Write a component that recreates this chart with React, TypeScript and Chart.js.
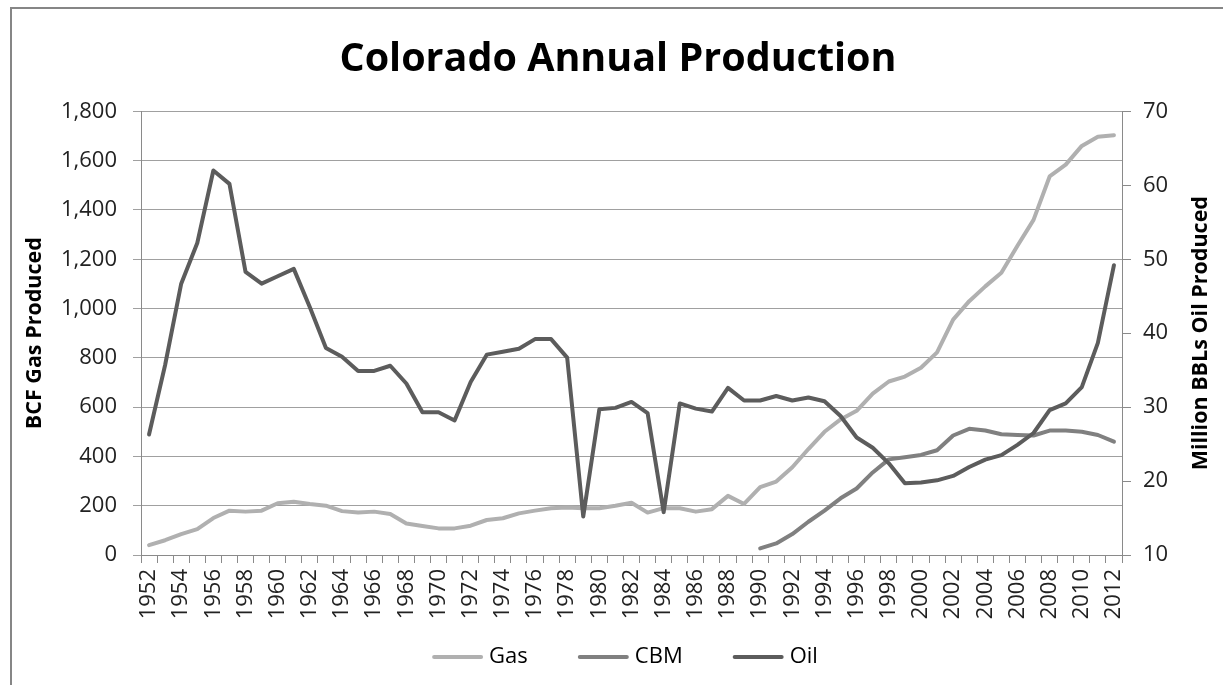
import React, { useEffect, useRef } from "react";
import { Chart, registerables } from "chart.js";

Chart.register(...registerables);

const FONT = "'Open Sans', 'Liberation Sans', sans-serif";

const chartTitle = "Colorado Annual Production";
const leftAxisTitle = "BCF Gas Produced";
const rightAxisTitle = "Million BBLs Oil Produced";

const years = [
  "1952", "1953", "1954", "1955", "1956", "1957", "1958", "1959", "1960", "1961",
  "1962", "1963", "1964", "1965", "1966", "1967", "1968", "1969", "1970", "1971",
  "1972", "1973", "1974", "1975", "1976", "1977", "1978", "1979", "1980", "1981",
  "1982", "1983", "1984", "1985", "1986", "1987", "1988", "1989", "1990", "1991",
  "1992", "1993", "1994", "1995", "1996", "1997", "1998", "1999", "2000", "2001",
  "2002", "2003", "2004", "2005", "2006", "2007", "2008", "2009", "2010", "2011",
  "2012",
];

// BCF (left axis)
const gas = [
  40, 60, 85, 105, 150, 180, 176, 180, 210, 216,
  207, 200, 178, 172, 176, 166, 128, 118, 108, 108,
  119, 142, 149, 169, 180, 190, 193, 190, 190, 200,
  212, 172, 190, 190, 176, 186, 240, 207, 275, 298,
  356, 430, 500, 550, 585, 655, 704, 724, 760, 822,
  955, 1030, 1090, 1145, 1255, 1360, 1536, 1584, 1660, 1697,
  1703,
];

// BCF (left axis)
const cbm = [
  null, null, null, null, null, null, null, null, null, null,
  null, null, null, null, null, null, null, null, null, null,
  null, null, null, null, null, null, null, null, null, null,
  null, null, null, null, null, null, null, null, 27, 47,
  85, 135, 180, 230, 270, 335, 388, 397, 406, 425,
  485, 512, 505, 490, 487, 485, 505, 505, 500, 487,
  460,
];

// Million BBLs (right axis)
const oil = [
  26.3, 35.7, 46.7, 52.2, 62.0, 60.2, 48.3, 46.7, 47.7, 48.7,
  43.5, 38.0, 36.8, 34.9, 34.9, 35.6, 33.2, 29.3, 29.3, 28.2,
  33.4, 37.1, 37.5, 37.9, 39.2, 39.2, 36.7, 15.2, 29.7, 29.9,
  30.7, 29.2, 15.8, 30.5, 29.8, 29.4, 32.6, 30.9, 30.9, 31.5,
  30.9, 31.3, 30.8, 28.8, 25.9, 24.5, 22.4, 19.7, 19.8, 20.1,
  20.7, 21.9, 22.9, 23.5, 24.9, 26.5, 29.6, 30.5, 32.7, 38.7,
  49.2,
];

const leftMin = 0;
const leftMax = 1800;
const leftStep = 200;
const rightMin = 10;
const rightMax = 70;
const rightStep = 10;

const seriesNames = ["Gas", "CBM", "Oil"];
const seriesColors = ["#b0b0b0", "#808080", "#5c5c5c"];

const axisTitlesPlugin = {
  id: "axisTitlesPlugin",
  afterDraw(chart: any) {
    const { ctx, chartArea } = chart;
    const midY = (chartArea.top + chartArea.bottom) / 2;
    ctx.save();
    ctx.fillStyle = "#000";
    ctx.font = `bold 21.5px ${FONT}`;
    ctx.textAlign = "center";
    ctx.textBaseline = "middle";
    ctx.save();
    ctx.translate(chartArea.left - 106, midY);
    ctx.rotate(-Math.PI / 2);
    ctx.fillText(leftAxisTitle, 0, 0);
    ctx.restore();
    ctx.save();
    ctx.translate(chartArea.right + 79, midY);
    ctx.rotate(-Math.PI / 2);
    ctx.fillText(rightAxisTitle, 0, 0);
    ctx.restore();
    ctx.restore();
  },
};

// Legend drawn under the x axis, line samples like the source chart
const lineLegendPlugin = {
  id: "lineLegendPlugin",
  afterDraw(chart: any) {
    const { ctx } = chart;
    const sampleLen = 51;
    const textGap = 6;
    const itemGap = 50;
    const centerX = 625;
    const y = 657;
    ctx.save();
    ctx.font = `22px ${FONT}`;
    const widths = seriesNames.map((n) => sampleLen + textGap + ctx.measureText(n).width);
    const total = widths.reduce((a, b) => a + b, 0) + itemGap * (widths.length - 1);
    let x = centerX - total / 2;
    chart.data.datasets.forEach((ds: any, i: number) => {
      ctx.strokeStyle = ds.borderColor;
      ctx.lineWidth = 4;
      ctx.lineCap = "round";
      ctx.beginPath();
      ctx.moveTo(x + 2, y);
      ctx.lineTo(x + sampleLen - 2, y);
      ctx.stroke();
      ctx.fillStyle = "#000";
      ctx.textAlign = "left";
      ctx.textBaseline = "middle";
      ctx.fillText(ds.label, x + sampleLen + textGap, y);
      x += widths[i] + itemGap;
    });
    ctx.restore();
  },
};

export default function App() {
  const canvasRef = useRef<HTMLCanvasElement | null>(null);

  useEffect(() => {
    if (!canvasRef.current) return;
    const lineBase = {
      pointRadius: 0,
      pointHoverRadius: 0,
      borderWidth: 4,
      tension: 0,
      borderJoinStyle: "round" as const,
      borderCapStyle: "round" as const,
      spanGaps: false,
      fill: false,
    };
    const chart = new Chart(canvasRef.current, {
      type: "line",
      data: {
        labels: years,
        datasets: [
          { ...lineBase, label: seriesNames[0], data: gas, borderColor: seriesColors[0], backgroundColor: seriesColors[0], yAxisID: "y", order: 3 },
          { ...lineBase, label: seriesNames[1], data: cbm, borderColor: seriesColors[1], backgroundColor: seriesColors[1], yAxisID: "y", order: 2 },
          { ...lineBase, label: seriesNames[2], data: oil, borderColor: seriesColors[2], backgroundColor: seriesColors[2], yAxisID: "y1", order: 1 },
        ],
      },
      options: {
        animation: false,
        responsive: false,
        devicePixelRatio: 1,
        layout: { padding: { left: 13, right: 0, top: 0, bottom: 55 } },
        plugins: {
          tooltip: { enabled: false },
          legend: { display: false },
          title: {
            display: true,
            text: chartTitle,
            color: "#000",
            font: { family: FONT, size: 39.5, weight: "bold", lineHeight: 1.2 },
            padding: { top: 36, bottom: 28 },
          },
        },
        scales: {
          x: {
            type: "category",
            offset: true,
            afterFit: (s: any) => { s.height = 75; },
            grid: { display: true, drawOnChartArea: false, drawTicks: true, tickLength: 8, color: "#8a8a8a", offset: true },
            border: { display: true, color: "#8a8a8a", width: 1 },
            ticks: {
              autoSkip: false,
              maxRotation: 90,
              minRotation: 90,
              padding: 6,
              color: "#222",
              font: { family: FONT, size: 22 },
              callback: function (this: any, _v: any, i: number) {
                return i % 2 === 0 ? years[i] : "";
              },
            },
          },
          y: {
            position: "left",
            min: leftMin,
            max: leftMax,
            afterFit: (s: any) => { s.width = 128; },
            grid: { color: "#a0a0a0", drawTicks: true, tickLength: 8, lineWidth: 1 },
            border: { display: true, color: "#8a8a8a" },
            ticks: {
              stepSize: leftStep,
              padding: 16,
              color: "#222",
              font: { family: FONT, size: 22 },
              callback: (v: any) => Number(v).toLocaleString("en-US"),
            },
          },
          y1: {
            position: "right",
            min: rightMin,
            max: rightMax,
            afterFit: (s: any) => { s.width = 101; },
            grid: { drawOnChartArea: false, drawTicks: true, tickLength: 9, color: "#8a8a8a" },
            border: { display: true, color: "#8a8a8a" },
            ticks: {
              stepSize: rightStep,
              padding: 12,
              color: "#222",
              font: { family: FONT, size: 22 },
            },
          },
        },
      },
      plugins: [axisTitlesPlugin, lineLegendPlugin],
    } as any);
    return () => chart.destroy();
  }, []);

  return (
    <div style={{ position: "fixed", left: 0, top: 0, width: 1223, height: 685, background: "#fff", overflow: "hidden" }}>
      <div style={{ position: "absolute", left: 10, top: 7, width: 1300, height: 800, border: "2px solid #868686", boxSizing: "border-box" }} />
      <canvas ref={canvasRef} width={1223} height={685} style={{ position: "absolute", left: 0, top: 0, width: 1223, height: 685 }} />
    </div>
  );
}
